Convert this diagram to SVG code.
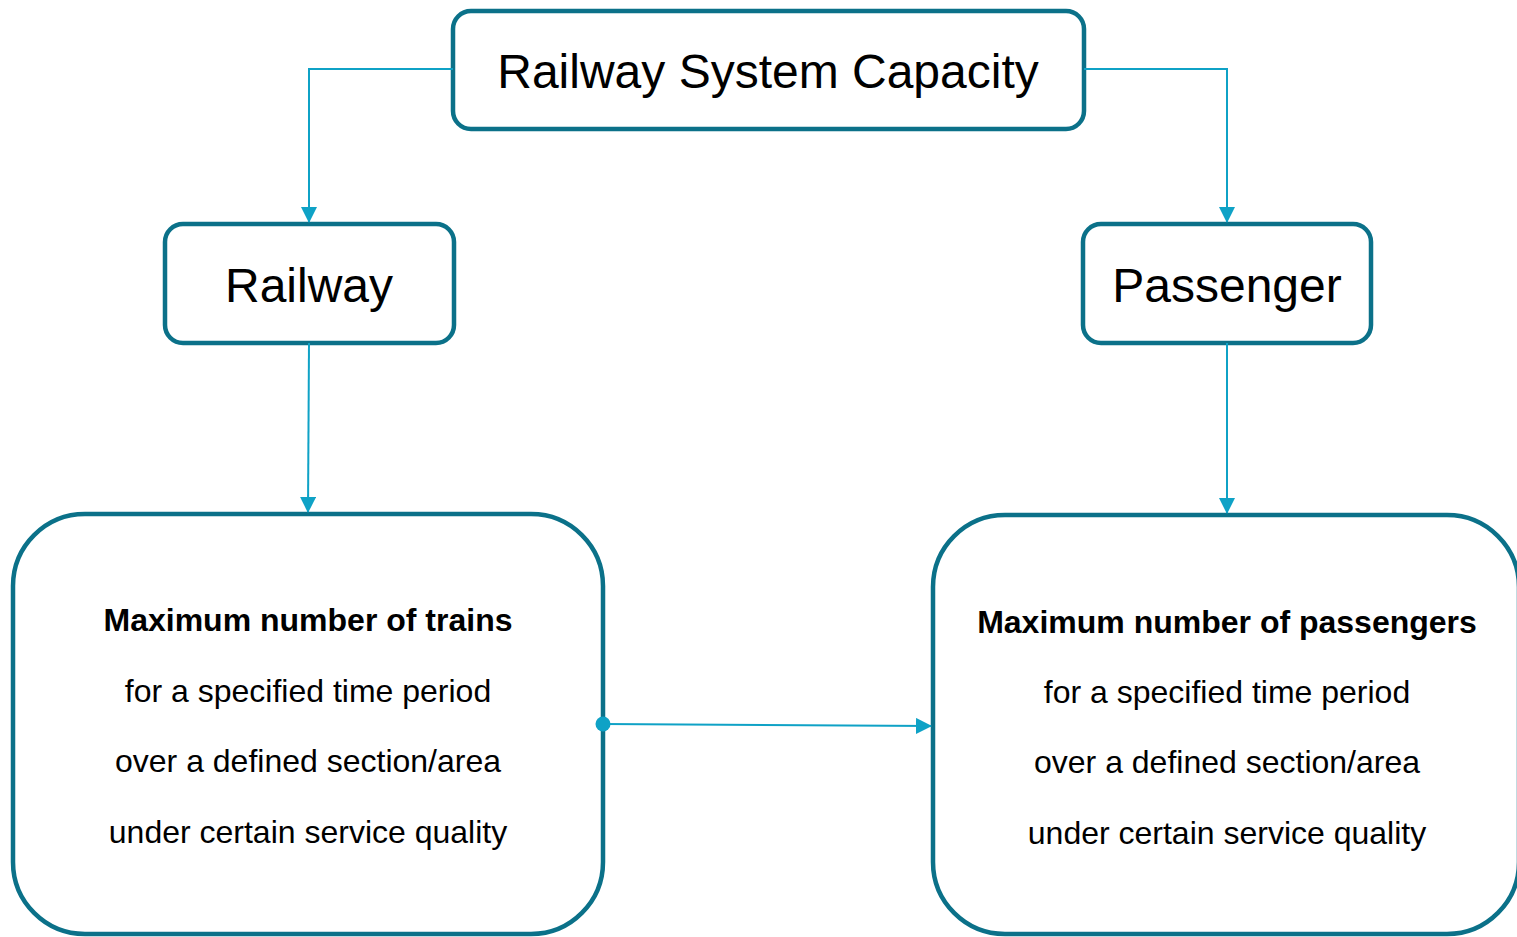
<svg xmlns="http://www.w3.org/2000/svg" width="1517" height="937" viewBox="0 0 1517 937">
<style>
.box{fill:#fff;stroke:#0B7189;stroke-width:4.5}
.con{fill:none;stroke:#0FA2C6;stroke-width:2}
.big{font-family:"Liberation Sans",Arial,sans-serif;font-size:48px;fill:#000;text-anchor:middle}
.b{font-family:"Liberation Sans",Arial,sans-serif;font-size:32px;font-weight:bold;fill:#000;text-anchor:middle}
.r{font-family:"Liberation Sans",Arial,sans-serif;font-size:32px;fill:#000;text-anchor:middle}
</style>
<defs>
<marker id="ah" markerWidth="16" markerHeight="16" refX="15" refY="8" orient="auto" markerUnits="userSpaceOnUse" viewBox="0 0 16 16">
<path d="M0,0 L16,8 L0,16 Z" fill="#0FA2C6"/>
</marker>
</defs>
<g id="node-top">
<rect class="box" x="453" y="11" width="631" height="118" rx="18"/>
<text class="big" x="768" y="88">Railway System Capacity</text>
</g>
<g id="node-railway">
<rect class="box" x="165" y="224" width="289" height="119" rx="18"/>
<text class="big" x="309" y="302">Railway</text>
</g>
<g id="node-passenger">
<rect class="box" x="1083" y="224" width="288" height="119" rx="18"/>
<text class="big" x="1227" y="302">Passenger</text>
</g>
<g id="node-trains">
<rect class="box" x="13" y="514" width="590" height="420" rx="72"/>
<text class="b" x="308" y="631">Maximum number of trains</text>
<text class="r" x="308" y="702">for a specified time period</text>
<text class="r" x="308" y="772">over a defined section/area</text>
<text class="r" x="308" y="843">under certain service quality</text>
</g>
<g id="node-passengers">
<rect class="box" x="933" y="515" width="586" height="419" rx="72"/>
<text class="b" x="1227" y="633">Maximum number of passengers</text>
<text class="r" x="1227" y="703">for a specified time period</text>
<text class="r" x="1227" y="773">over a defined section/area</text>
<text class="r" x="1227" y="844">under certain service quality</text>
</g>
<g id="connectors">
<path class="con" d="M453,69 H309 V222" marker-end="url(#ah)"/>
<path class="con" d="M1084,69 H1227 V222" marker-end="url(#ah)"/>
<path class="con" d="M309,343 L308,512" marker-end="url(#ah)"/>
<path class="con" d="M1227,343 V513" marker-end="url(#ah)"/>
<path class="con" d="M603,724 L931,726" marker-end="url(#ah)"/>
<circle cx="603" cy="724" r="7.5" fill="#0FA2C6"/>
</g>
</svg>
